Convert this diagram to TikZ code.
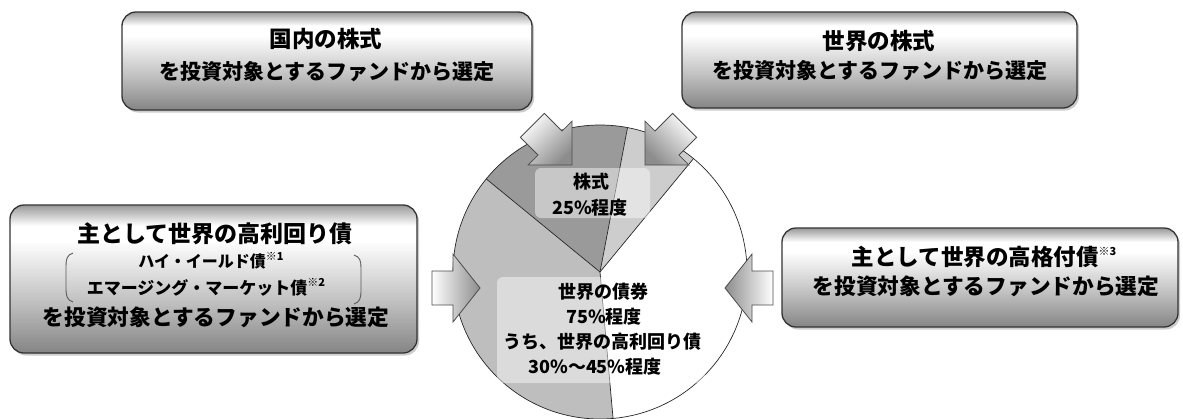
\documentclass[tikz,border=0pt]{standalone}
\usepackage{fontspec}
\setmainfont{Noto Sans CJK JP}
\usetikzlibrary{shadows}
\pgfdeclareverticalshading{metal}{100bp}{color(0bp)=(black!48); color(25bp)=(black!48); color(42bp)=(black!25); color(63bp)=(white); color(68bp)=(white); color(75bp)=(black!40); color(100bp)=(black!40)}
\definecolor{slicedark}{HTML}{9A9A9A}
\definecolor{slicelight}{HTML}{CDCDCD}
\definecolor{sliceleft}{HTML}{BEBEBE}
\newcommand{\fsz}[1]{\fontsize{#1}{#1}\selectfont}
\newcommand{\kome}[1]{\raisebox{.45em}{\fontsize{11}{11}\selectfont ※#1}}
\tikzset{
  metalbox/.style={draw=black!80, line width=1.3pt, rounded corners=14pt, shading=metal,
    drop shadow={shadow xshift=2pt, shadow yshift=-2.5pt, opacity=.4}, inner sep=0pt},
  txt/.style={inner sep=0pt, font=\bfseries},
  blockarrow/.style={draw=black!70, line width=0.8pt, top color=white, bottom color=black!45},
  labelbg/.style={fill=white, fill opacity=.45, rounded corners=6pt},
  pieline/.style={draw=black!85, line width=0.7pt},
  bracket/.style={draw=black!65, line width=0.9pt}
}
\begin{document}
\begin{tikzpicture}[x=1pt,y=-1pt]
\useasboundingbox (0,0) rectangle (1183,418);
% ---------- pie ----------
\coordinate (pc) at (600,272);
\begin{scope}[shift={(pc)}]
  \fill[slicedark]  (0,0) -- (-140.7:147) arc[start angle=-140.7, end angle=-79.2, radius=147] -- cycle;
  \fill[slicelight] (0,0) -- (-79.2:147) arc[start angle=-79.2, end angle=-50.5, radius=147] -- cycle;
  \fill[white]      (0,0) -- (-50.5:147) arc[start angle=-50.5, end angle=84.9, radius=147] -- cycle;
  \fill[sliceleft]  (0,0) -- (84.9:147) arc[start angle=84.9, end angle=219.3, radius=147] -- cycle;
  \coordinate (ptop) at (-79.2:147);
  \coordinate (pul) at (-140.7:147);
  \coordinate (pur) at (-50.5:147);
  \coordinate (pbot) at (84.9:147);
  \draw[pieline] (0,0) circle[radius=147];
\end{scope}
\draw[pieline] (pc) -- (ptop);
\draw[pieline] (pc) -- (pul);
\draw[pieline] (pc) -- (pur);
\draw[pieline] (pc) -- (pbot);
% label backgrounds
\fill[labelbg] (535,168) rectangle (650,218);
\fill[labelbg] (497,277) rectangle (705,383);
\node[txt, font=\bfseries\fsz{18}] (kabu) at (591,182) {株式};
\node[txt, font=\bfseries\fsz{18}] (kabup) at (590,208) {25\%程度};
\node[txt, font=\bfseries\fsz{18}] (sai1) at (603,292) {世界の債券};
\node[txt, font=\bfseries\fsz{18}] (sai2) at (604,317) {75\%程度};
\node[txt, font=\bfseries\fsz{18}] (sai3) at (602,342) {うち、世界の高利回り債};
\node[txt, font=\bfseries\fsz{18}] (sai4) at (595,367) {30\%～45\%程度};
% ---------- arrows ----------
\begin{scope}[shift={(480,288)}]
  \draw[blockarrow, shading angle=90] (0,0) -- (-27,-34) -- (-27,-17) -- (-48,-17) -- (-48,17) -- (-27,17) -- (-27,34) -- cycle;
\end{scope}
\begin{scope}[shift={(725,288)}, rotate=180]
  \draw[blockarrow, shading angle=-90] (0,0) -- (-27,-34) -- (-27,-17) -- (-48,-17) -- (-48,17) -- (-27,17) -- (-27,34) -- cycle;
\end{scope}
\begin{scope}[shift={(572,165)}, rotate=-45]
  \draw[blockarrow, shading angle=45] (0,0) -- (-31,-31) -- (-31,-17) -- (-56,-17) -- (-56,17) -- (-31,17) -- (-31,31) -- cycle;
\end{scope}
\begin{scope}[shift={(645,165)}, rotate=-135]
  \draw[blockarrow, shading angle=-45] (0,0) -- (-31,-31) -- (-31,-17) -- (-56,-17) -- (-56,17) -- (-31,17) -- (-31,31) -- cycle;
\end{scope}
% ---------- boxes ----------
\node[metalbox, minimum width=410pt, minimum height=98pt] (boxjp) at (327,61) {};
\node[metalbox, minimum width=395pt, minimum height=96pt] (boxworld) at (879.5,60) {};
\node[metalbox, minimum width=407pt, minimum height=148pt] (boxhy) at (213.5,279) {};
\node[metalbox, minimum width=396pt, minimum height=99pt] (boxig) at (980,277.5) {};
% texts
\node[txt, font=\bfseries\fsz{22.5}] (jp1) at (326,39) {国内の株式};
\node[txt, font=\bfseries\fsz{21}] (jp2) at (327,72) {を投資対象とするファンドから選定};
\node[txt, font=\bfseries\fsz{22.5}] (w1) at (879,41) {世界の株式};
\node[txt, font=\bfseries\fsz{21}] (w2) at (880,71) {を投資対象とするファンドから選定};
\node[txt, font=\bfseries\fsz{23}] (hy1) at (215,234) {主として世界の高利回り債};
\node[txt, font=\bfseries\fsz{16}] (hy2) at (211,261) {ハイ・イールド債\kome{1}};
\node[txt, font=\bfseries\fsz{17}] (hy3) at (206,287) {エマージング・マーケット債\kome{2}};
\node[txt, font=\bfseries\fsz{21.7}] (hy4) at (216,317) {を投資対象とするファンドから選定};
\node[txt, font=\bfseries\fsz{22.5}] (ig1) at (984,257) {主として世界の高格付債\kome{3}};
\node[txt, font=\bfseries\fsz{21.7}] (ig2) at (986,286) {を投資対象とするファンドから選定};
% brackets
\draw[bracket] (73,253) .. controls (67,255) and (66,259) .. (66,266) -- (66,288) .. controls (66,296) and (67,300) .. (73,302);
\draw[bracket] (354,255) .. controls (360,257) and (361,261) .. (361,268) -- (361,290) .. controls (361,298) and (360,302) .. (354,304);
\end{tikzpicture}
\end{document}
